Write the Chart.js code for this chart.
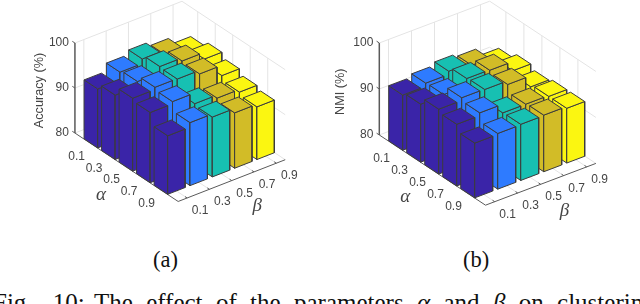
<!DOCTYPE html>
<html>
<head>
<meta charset="utf-8">
<script src="https://cdn.jsdelivr.net/npm/chart.js@4"></script>
<style>
  html, body { margin: 0; padding: 0; background: #fff; width: 640px; height: 304px; overflow: hidden; }
  canvas { position: absolute; top: 0; }
  #chartA { left: 0; }
  #chartB { left: 320px; }
  .sub { position: absolute; top: 247px; font: 22.5px "Liberation Serif", serif; color: #111; }
  #caption { position: absolute; left: -7px; top: 290px; width: 760px; line-height: 25px; white-space: nowrap; font-family: "Liberation Serif", serif; font-size: 25px; color: #111; word-spacing: 7.1px; }
  #caption span { margin-left: 6.8px; margin-right: -3.7px; }
</style>
</head>
<body>
<canvas id="chartA" width="320" height="245"></canvas>
<canvas id="chartB" width="320" height="245"></canvas>
<div class="sub" style="left:153px">(a)</div>
<div class="sub" style="left:463px">(b)</div>
<div id="caption">Fig. <span>10:</span> The effect of the parameters <i>α</i> and <i>β</i> on clustering</div>
<script>
const alphaTicks = ['0.1', '0.3', '0.5', '0.7', '0.9'];
const betaTicks = ['0.1', '0.3', '0.5', '0.7', '0.9'];
const zTicks = [80, 90, 100];
const betaColors = ['#3a24a8', '#2e7bff', '#17c0b2', '#d2bc27', '#fbf611'];

// rows are alpha, columns are beta
const accuracy = [
    [93.1, 94.9, 95.9, 95.0, 93.5],
    [94.3, 95.4, 96.8, 96.1, 94.6],
    [96.2, 96.7, 96.6, 95.8, 93.5],
    [95.6, 96.1, 93.7, 93.0, 92.4],
    [93.0, 94.0, 93.3, 92.3, 91.7]
];
const nmi = [
    [92.0, 92.7, 93.4, 92.8, 91.1],
    [92.6, 92.8, 94.4, 94.3, 92.3],
    [94.1, 94.7, 94.6, 93.8, 91.4],
    [93.4, 94.0, 92.1, 92.1, 91.9],
    [91.9, 92.1, 92.2, 92.3, 91.9]
];

const EDGE = '#3c3c3c';
const GRID = '#e4e4e4';
const AXIS = '#5a5a5a';
const TEXT = '#454545';
const HALF = 0.39;
const U_MIN = -0.9, U_MAX = 5.0, V_MIN = -0.4, V_MAX = 4.4, Z_MIN = 80, Z_MAX = 100;

// turns alpha index, beta index and value into a position on the flat x/y scales
function projector(view) {
    return (u, v, z) => ({
        x: view.ox + u * view.ax + v * view.bx,
        y: view.oy + u * view.ay + v * view.by - (z - Z_MIN) * view.zk
    });
}

function faceDataset(points, fill, stroke, width) {
    return {
        data: fill ? points.concat(points[0]) : points,
        showLine: true,
        fill: fill ? 'shape' : false,
        backgroundColor: fill || 'transparent',
        borderColor: stroke,
        borderWidth: width,
        borderJoinStyle: 'round',
        pointRadius: 0,
        pointHoverRadius: 0,
        tension: 0
    };
}

function buildDatasets(values, p) {
    const out = [];
    const line = (a, b, color, width) => out.push(faceDataset([a, b], null, color, width || 1));

    // walls and floor
    for (let v = 0; v < betaTicks.length; v++) {
        line(p(U_MIN, v, Z_MIN), p(U_MIN, v, Z_MAX), GRID);
        line(p(U_MIN, v, Z_MIN), p(U_MAX, v, Z_MIN), GRID);
    }
    for (let u = 0; u < alphaTicks.length; u++) {
        line(p(u, V_MAX, Z_MIN), p(u, V_MAX, Z_MAX), GRID);
        line(p(u, V_MIN, Z_MIN), p(u, V_MAX, Z_MIN), GRID);
    }
    zTicks.forEach(z => {
        line(p(U_MIN, V_MIN, z), p(U_MIN, V_MAX, z), GRID);
        line(p(U_MIN, V_MAX, z), p(U_MAX, V_MAX, z), GRID);
    });

    // axes
    line(p(U_MIN, V_MIN, Z_MIN), p(U_MIN, V_MIN, Z_MAX), AXIS, 1.5);
    line(p(U_MIN, V_MIN, Z_MIN), p(U_MAX, V_MIN, Z_MIN), AXIS);
    line(p(U_MAX, V_MIN, Z_MIN), p(U_MAX, V_MAX, Z_MIN), AXIS);
    zTicks.forEach(z => line(p(U_MIN - 0.15, V_MIN, z), p(U_MIN, V_MIN, z), AXIS));
    alphaTicks.forEach((t, u) => line(p(u, V_MIN, Z_MIN), p(u, V_MIN + 0.12, Z_MIN), AXIS));
    betaTicks.forEach((t, v) => line(p(U_MAX, v, Z_MIN), p(U_MAX - 0.12, v, Z_MIN), AXIS));

    // bars, far ones first
    for (let u = 0; u < values.length; u++) {
        for (let v = values[u].length - 1; v >= 0; v--) {
            const z = values[u][v];
            const color = betaColors[v];
            const u0 = u - HALF, u1 = u + HALF, v0 = v - HALF, v1 = v + HALF;
            out.push(faceDataset([p(u0, v0, z), p(u1, v0, z), p(u1, v0, Z_MIN), p(u0, v0, Z_MIN)], color, EDGE, 1));
            out.push(faceDataset([p(u1, v0, z), p(u1, v1, z), p(u1, v1, Z_MIN), p(u1, v0, Z_MIN)], color, EDGE, 1));
            out.push(faceDataset([p(u0, v0, z), p(u1, v0, z), p(u1, v1, z), p(u0, v1, z)], color, EDGE, 1));
        }
    }
    // the library paints the lowest order last
    out.forEach((d, i) => { d.order = -i; });
    return out;
}

const axisText = {
    id: 'axisText',
    afterDatasetsDraw(chart, args, opts) {
        const { ctx, scales } = chart;
        const p = opts.project;
        const at = pt => [scales.x.getPixelForValue(pt.x), scales.y.getPixelForValue(pt.y)];
        const put = (text, pt, dx, dy, font, align) => {
            const [x, y] = at(pt);
            ctx.font = font;
            ctx.textAlign = align || 'center';
            ctx.textBaseline = 'middle';
            ctx.fillText(text, x + dx, y + dy);
        };
        const tickFont = '12px "Liberation Sans"';
        const mathFont = 'italic 19px "Liberation Serif"';
        ctx.save();
        ctx.fillStyle = TEXT;
        zTicks.forEach(z => put(String(z), p(U_MIN, V_MIN, z), -6, 0, tickFont, 'right'));
        alphaTicks.forEach((t, u) => put(t, p(u, V_MIN, Z_MIN), -14, 13.5, tickFont));
        betaTicks.forEach((t, v) => put(t, p(U_MAX, v, Z_MIN), 13, 12.7, tickFont));
        put('α', p(U_MIN, V_MIN, Z_MIN), opts.alphaDx, opts.alphaDy, mathFont);
        put('β', p(U_MAX, V_MIN, Z_MIN), opts.betaDx, opts.betaDy, mathFont);

        const [lx, ly] = at(p(U_MIN, V_MIN, Z_MIN));
        ctx.translate(lx - opts.labelDx, ly - opts.labelDy);
        ctx.rotate(-Math.PI / 2);
        ctx.font = '12.7px "Liberation Sans"';
        ctx.textAlign = 'center';
        ctx.textBaseline = 'middle';
        ctx.fillText(opts.label, 0, 0);
        ctx.restore();
    }
};

function drawPanel(id, values, view, textOpts) {
    const project = projector(view);
    new Chart(document.getElementById(id), {
        type: 'scatter',
        data: { datasets: buildDatasets(values, project) },
        plugins: [axisText],
        options: {
            responsive: false,
            animation: false,
            devicePixelRatio: 1,
            layout: { padding: 0 },
            events: [],
            scales: {
                x: { type: 'linear', display: false, min: 0, max: 320 },
                y: { type: 'linear', display: false, min: 0, max: 245, reverse: true }
            },
            plugins: {
                legend: { display: false },
                title: { display: false },
                tooltip: { enabled: false },
                axisText: Object.assign({ project }, textOpts)
            }
        }
    });
}

drawPanel('chartA', accuracy,
    { ox: 99.6, oy: 140, ax: 17.5, ay: 11.6, bx: 22.3, by: -8.7, zk: 4.5 },
    { label: 'Accuracy (%)', labelDx: 35.7, labelDy: 42.5, alphaDx: 26, alphaDy: 62, betaDx: 79, betaDy: 5 });
drawPanel('chartB', nmi,
    { ox: 84.7, oy: 142.2, ax: 18, ay: 11.9, bx: 23, by: -8.7, zk: 4.6 },
    { label: 'NMI (%)', labelDx: 39.3, labelDy: 43.3, alphaDx: 26, alphaDy: 62, betaDx: 79, betaDy: 6 });
</script>
</body>
</html>
